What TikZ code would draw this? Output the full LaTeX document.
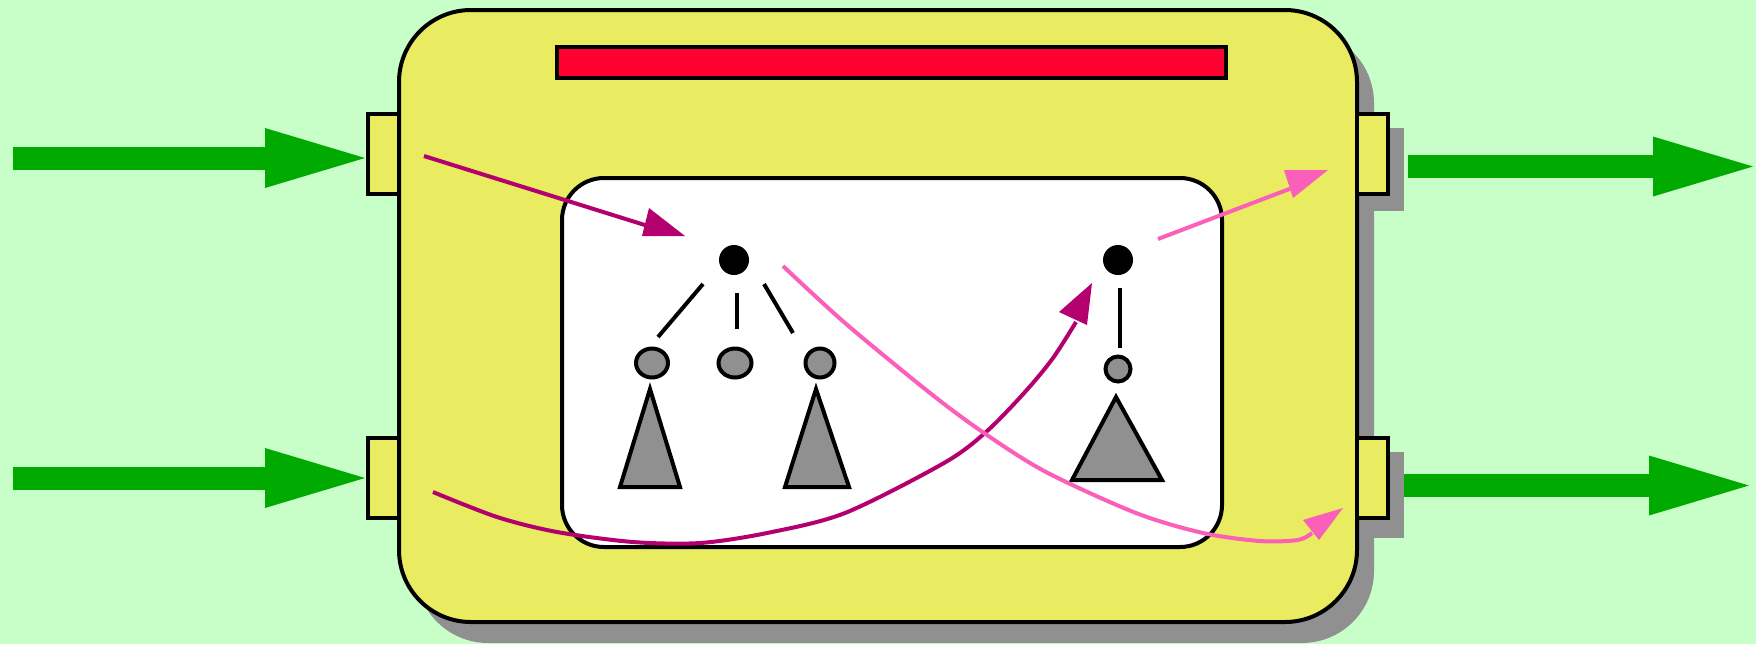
\documentclass[tikz,border=0pt]{standalone}
\usetikzlibrary{arrows.meta,calc,shapes.geometric}
\definecolor{bgmint}{RGB}{200,255,200}
\definecolor{boxyellow}{RGB}{233,235,96}
\definecolor{barred}{RGB}{255,0,48}
\definecolor{flowgreen}{RGB}{0,170,0}
\definecolor{shadowgray}{RGB}{144,144,144}
\definecolor{deepmag}{RGB}{180,0,110}
\definecolor{hotpink}{RGB}{250,95,185}
\begin{document}
\begin{tikzpicture}[x=0.5pt,y=-0.5pt,
  outline/.style={draw=black,line width=2pt},
  port/.style={outline,fill=boxyellow,rectangle,minimum width=15.5pt,minimum height=40pt,inner sep=0pt,outer sep=0pt},
  flow/.style={draw=flowgreen,line width=11.5pt,-{Triangle[length=50pt,width=30pt,line width=0pt]}},
  dot/.style={circle,fill=black,draw=none,minimum size=15pt,inner sep=0pt},
  leaf/.style={ellipse,outline,fill=shadowgray,inner sep=0pt},
  edge/.style={draw=black,line width=2pt},
  subtree/.style={outline,fill=shadowgray,line join=miter},
  magline/.style={draw=deepmag,line width=2pt},
  pinkline/.style={draw=hotpink,line width=2pt},
]
% canvas
\fill[bgmint] (0,0) rectangle (1756,644);
\useasboundingbox (0,0) rectangle (1756,644);

% drop shadows
\fill[shadowgray,rounded corners=36pt] (416,31) rectangle (1374,643);
\fill[shadowgray] (1373,128) rectangle (1404,211);
\fill[shadowgray] (1373,452) rectangle (1404,538);

% main component body
\draw[outline,fill=boxyellow,rounded corners=36pt] (399,10) rectangle (1357,622);
% title bar
\node[outline,fill=barred,rectangle,inner sep=0pt,minimum width=334.5pt,minimum height=15.5pt] (bar) at (891.5,62.5) {};

% ports
\node[port] (pl1) at (383.5,154) {};
\node[port] (pl2) at (383.5,477.5) {};
\node[port] (pr1) at (1372.5,154) {};
\node[port] (pr2) at (1372.5,477.5) {};

% inner panel
\draw[outline,fill=white,rounded corners=21pt] (562,178) rectangle (1222,547);

% external flows
\coordinate (in1) at (13,158);
\coordinate (in2) at (13,478);
\coordinate (out1s) at (1408,166.5);
\coordinate (out1e) at (1753,166.5);
\coordinate (out2s) at (1404,485.5);
\coordinate (out2e) at (1749,485.5);
\draw[flow,shorten >=1.5pt] (in1) -- (in1 -| pl1.west);
\draw[flow,shorten >=1.5pt] (in2) -- (in2 -| pl2.west);
\draw[flow] (out1s) -- (out1e);
\draw[flow] (out2s) -- (out2e);

% left tree
\node[dot] (lr) at (734,260) {};
\node[leaf,minimum width=16pt,minimum height=14.5pt] (lc1) at (652,363) {};
\node[leaf,minimum width=16.5pt,minimum height=14.5pt] (lc2) at (735,363) {};
\node[leaf,minimum width=14.5pt,minimum height=14.5pt] (lc3) at (820,363) {};
\draw[edge] ($(lr)+(-31,24)$) -- ($(lc1)+(6,-26)$);
\draw[edge] ($(lr)+(3,33)$) -- ($(lc2)+(2,-34)$);
\draw[edge] ($(lr)+(30,24)$) -- ($(lc3)+(-27,-30)$);
\draw[subtree] (650,389) -- (680,487) -- (620,487) -- cycle;
\draw[subtree] (816,389) -- (849,487) -- (785,487) -- cycle;

% right tree
\node[dot] (rr) at (1118,260) {};
\node[leaf,minimum width=12.5pt,minimum height=12.5pt] (rc) at (1118,369) {};
\draw[edge] ($(rr)+(2,28)$) -- ($(rc)+(2,-21)$);
\draw[subtree] (1116,397) -- (1162,480) -- (1072,480) -- cycle;

% internal connections
\coordinate (m1s) at (424,156);
\coordinate (m1e) at (648,226);
\draw[magline] (m1s) -- (m1e);
\fill[deepmag] (649,208) -- (685,236) -- (642,236) -- cycle;

\coordinate (m3s) at (433,492);
\coordinate (m3e) at (1076,322);
\draw[magline] plot[smooth,tension=0.5] coordinates {(m3s) (497,517) (557,532) (633,542) (700,543) (767,533) (845,513) (944,463) (986,432) (1025,392) (1053,358) (m3e)};
\fill[deepmag] (1092,283) -- (1059,312) -- (1087,325) -- cycle;

\coordinate (p2s) at (783,266);
\coordinate (p2e) at (1312,533);
\draw[pinkline] plot[smooth,tension=0.5] coordinates {(p2s) (845,323) (930,393) (984,433) (1046,472) (1136,513) (1203,533) (1260,541) (1298,540) (p2e)};
\fill[hotpink] (1303,520) -- (1343,508) -- (1319,540) -- cycle;

\coordinate (p4s) at (1158,239);
\coordinate (p4e) at (1292,188);
\draw[pinkline] (p4s) -- (p4e);
\fill[hotpink] (1284,170) -- (1328,170) -- (1293,198) -- cycle;
\end{tikzpicture}
\end{document}
